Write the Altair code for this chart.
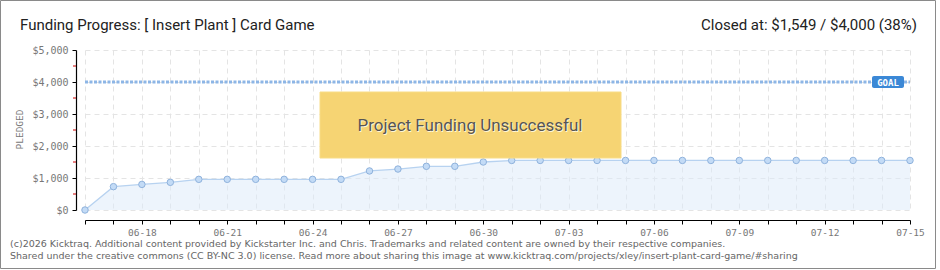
import altair as alt
import pandas as pd

# ---------------- data ----------------
dates = ["06-16", "06-17", "06-18", "06-19", "06-20", "06-21", "06-22", "06-23",
         "06-24", "06-25", "06-26", "06-27", "06-28", "06-29", "06-30",
         "07-01", "07-02", "07-03", "07-04", "07-05", "07-06", "07-07", "07-08",
         "07-09", "07-10", "07-11", "07-12", "07-13", "07-14", "07-15"]
pledged = [0, 730, 800, 865, 958, 958, 958, 958, 958, 958, 1220, 1280, 1365, 1365, 1500,
           1549, 1549, 1549, 1549, 1549, 1549, 1549, 1549, 1549, 1549, 1549, 1549, 1549, 1549, 1549]
labeled_dates = ["06-18", "06-21", "06-24", "06-27", "06-30", "07-03", "07-06", "07-09", "07-12", "07-15"]
y_ticks = [0, 1000, 2000, 3000, 4000, 5000]
y_minor = [500, 1500, 2500, 3500, 4500]
goal = 4000

title_text = "Funding Progress: [ Insert Plant ] Card Game"
closed_text = "Closed at:  $1,549 /  $4,000 (38%)"
status_text = "Project Funding Unsuccessful"
goal_label = "GOAL"
y_title = "PLEDGED"
footer_1 = ("(c)2026 Kicktraq. Additional content provided by Kickstarter Inc. and Chris. "
            "Trademarks and related content are owned by their respective companies.")
footer_2 = ("Shared under the creative commons (CC BY-NC 3.0) license. Read more about sharing "
            "this image at www.kicktraq.com/projects/xley/insert-plant-card-game/#sharing")

df = pd.DataFrame({"date": dates, "pledged": pledged})
goal_df = pd.DataFrame({"start": [dates[0]], "end": [dates[-1]], "goal": [goal]})
minor_df = pd.DataFrame({"v": y_minor})

W, H = 825, 160

x_scale = alt.Scale(type="point", padding=0, domain=dates)
y_scale = alt.Scale(domain=[0, 5000], nice=False)

label_list = ",".join(f"'{d}'" for d in labeled_dates)

x_axis = alt.Axis(
    title=None, labelAngle=0, labelOverlap=False,
    labelExpr=f"indexof([{label_list}], datum.value) >= 0 ? datum.value : ''",
    offset=10, domainColor="#000", domainWidth=1.2, tickColor="#000", tickSize=4,
    labelFont="DejaVu Sans Mono", labelFontSize=9.5, labelColor="#777", labelPadding=3,
    grid=True, gridColor="#e4e4e4", gridDash=[5, 4], gridWidth=1,
)
y_axis = alt.Axis(
    title=None, values=y_ticks, format="$,.0f", labelOverlap=False,
    offset=9, domainColor="#000", domainWidth=1.2, tickColor="#000", tickSize=4,
    labelFont="DejaVu Sans Mono", labelFontSize=10, labelColor="#777", labelPadding=4,
    grid=True, gridColor="#e4e4e4", gridDash=[5, 4],
)


def X(field):
    return alt.X(field, scale=x_scale, axis=x_axis)


def Y(field):
    return alt.Y(field, scale=y_scale, axis=y_axis)


def text_layer(txt, x, y, **mk):
    return alt.Chart(pd.DataFrame({"t": [txt]})).mark_text(**mk).encode(
        text="t:N", x=alt.value(x), y=alt.value(y))


one = pd.DataFrame({"a": [1]})

border = alt.Chart(one).mark_rect(filled=False, stroke="#8a8a8a", strokeWidth=1).encode(
    x=alt.value(-84.5), x2=alt.value(850.5), y=alt.value(-49.5), y2=alt.value(218.5))

area = alt.Chart(df).mark_area(color="#dbe9fa", opacity=0.5).encode(
    x=X("date:O"), y=Y("pledged:Q"))
line = alt.Chart(df).mark_line(color="#b7d2f0", strokeWidth=1.3).encode(
    x=X("date:O"), y=Y("pledged:Q"))
points = alt.Chart(df).mark_point(shape="circle", filled=True, fill="#c3dbf6", stroke="#8fb2dc",
                                  strokeWidth=1, size=42, opacity=1).encode(
    x=X("date:O"), y=Y("pledged:Q"))

minor_ticks = alt.Chart(minor_df).mark_rule(color="#cc0000", strokeWidth=1).encode(
    y=Y("v:Q"), x=alt.value(-12), x2=alt.value(-9))

goal_rule = alt.Chart(goal_df).mark_rule(color="#8db6e6", strokeWidth=3, strokeDash=[3, 1.5]).encode(
    x=X("start:O"), x2="end:O", y=Y("goal:Q"))

goal_box = alt.Chart(one).mark_rect(fill="#3b88d6", cornerRadius=2).encode(
    x=alt.value(787), x2=alt.value(819), y=alt.value(26), y2=alt.value(38))
goal_txt = text_layer(goal_label, 803, 32.5, align="center", baseline="middle",
                      font="DejaVu Sans Mono", fontSize=9, fontWeight="bold", color="white")

status_box = alt.Chart(one).mark_rect(fill="#f6d473", stroke="#f8dc86", strokeWidth=1).encode(
    x=alt.value(235), x2=alt.value(536), y=alt.value(42), y2=alt.value(108))
status_shadow = text_layer(status_text, 386, 77, align="center", baseline="middle",
                           font="Roboto", fontSize=17, color="#fff6d8")
status_txt = text_layer(status_text, 385, 76, align="center", baseline="middle",
                        font="Roboto", fontSize=17, color="#555555")

title = text_layer(title_text, -65, -20, align="left", baseline="alphabetic",
                   font="Roboto", fontSize=15, color="#222")
closed = text_layer(closed_text, 832, -20, align="right", baseline="alphabetic",
                    font="Roboto", fontSize=15, color="#222")
ytitle = text_layer(y_title, -65, 79.5, align="center", baseline="middle", angle=270,
                    font="DejaVu Sans Mono", fontSize=9.5, color="#777")
foot1 = text_layer(footer_1, -75, 194, align="left", baseline="middle",
                   font="DejaVu Sans", fontSize=9.5, color="#666")
foot2 = text_layer(footer_2, -75, 206, align="left", baseline="middle",
                   font="DejaVu Sans", fontSize=9.5, color="#666")

chart = alt.layer(
    border, area, line, minor_ticks, goal_rule, points, status_box, status_shadow, status_txt,
    goal_box, goal_txt, title, closed, ytitle, foot1, foot2,
).properties(
    width=W, height=H,
    autosize=alt.AutoSizeParams(type="none"),
    padding={"left": 85, "top": 50, "right": 30, "bottom": 60},
    background="white",
).configure_view(stroke=None)

chart.save("out.html", embed_options={"renderer": "svg", "actions": False})
